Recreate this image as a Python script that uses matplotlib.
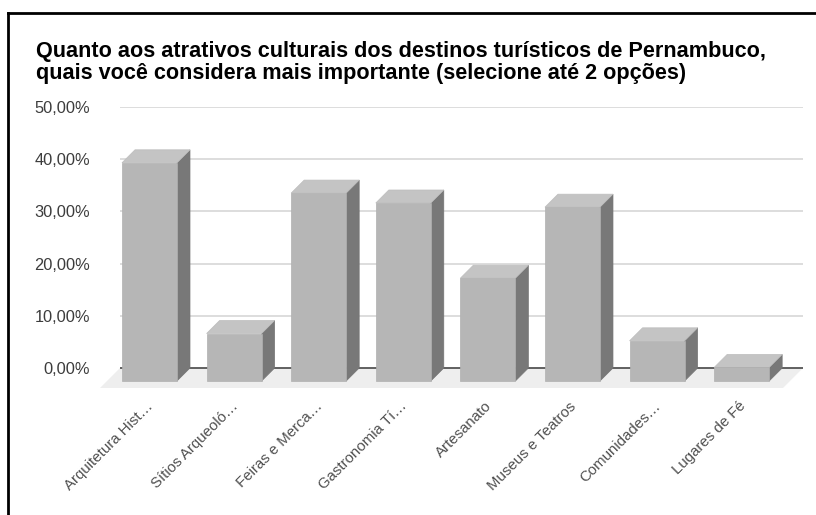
import matplotlib
matplotlib.use("Agg")
import matplotlib.pyplot as plt
from matplotlib.patches import Polygon
from matplotlib.lines import Line2D

# ---- data ----
categories = ["Arquitetura Hist…", "Sítios Arqueoló…", "Feiras e Merca…", "Gastronomia Tí…",
              "Artesanato", "Museus e Teatros", "Comunidades…", "Lugares de Fé"]
values = [41.8, 9.1, 36.0, 34.1, 19.7, 33.3, 7.7, 2.6]
yticks = [0, 10, 20, 30, 40, 50]
ytick_labels = ["0,00%", "10,00%", "20,00%", "30,00%", "40,00%", "50,00%"]
title_lines = ["Quanto aos atrativos culturais dos destinos turísticos de Pernambuco,",
               "quais você considera mais importante (selecione até 2 opções)"]

plt.rcParams['font.family'] = ['Liberation Sans', 'DejaVu Sans']

W, H = 816, 515
fig = plt.figure(figsize=(W / 100, H / 100), dpi=100)
fig.patch.set_facecolor('white')

# axes placed in pixel terms
ax_l, ax_r, ax_t, ax_b = 100, 803, 107, 388
ax = fig.add_axes([ax_l / W, (H - ax_b) / H, (ax_r - ax_l) / W, (ax_b - ax_t) / H])
xlim = (-0.585, 7.725)
ylim = (-3.83, 50)
ax.set_xlim(*xlim)
ax.set_ylim(*ylim)
for s in ax.spines.values():
    s.set_visible(False)
ax.set_facecolor('none')

pxx = (ax_r - ax_l) / (xlim[1] - xlim[0])   # px per x unit
pxy = (ax_b - ax_t) / (ylim[1] - ylim[0])   # px per y unit

bar_w = 55 / pxx
dx = 13 / pxx
dy = 13 / pxy
fdx = 20 / pxx
fdy = 20 / pxy

grid_x0 = xlim[0] + fdx
grid_x1 = xlim[1]

# floor
floor = Polygon([(grid_x0, 0), (grid_x1, 0), (grid_x1 - fdx, -fdy), (xlim[0], -fdy)],
                closed=True, facecolor='#eeeeee', edgecolor='none', zorder=1)
ax.add_patch(floor)

# gridlines
ax.hlines([t for t in yticks if t > 0], grid_x0, grid_x1, colors='#dadada', linewidth=1.3, zorder=0.5)
ax.hlines([0], grid_x0, grid_x1, colors='#555555', linewidth=1.3, zorder=2)

# bars
for i, v in enumerate(values):
    x0 = i - bar_w / 2
    x1 = i + bar_w / 2
    yb = -dy
    yt = v - dy
    front = Polygon([(x0, yb), (x1, yb), (x1, yt), (x0, yt)], closed=True,
                    facecolor='#b6b6b6', edgecolor='#b0b0b0', linewidth=0.5, zorder=5)
    top = Polygon([(x0, yt), (x1, yt), (x1 + dx, v), (x0 + dx, v)], closed=True,
                  facecolor='#c4c4c4', edgecolor='#bdbdbd', linewidth=0.5, zorder=4)
    side = Polygon([(x1, yb), (x1 + dx, 0), (x1 + dx, v), (x1, yt)], closed=True,
                   facecolor='#787878', edgecolor='#747474', linewidth=0.5, zorder=4)
    for p in (side, top, front):
        ax.add_patch(p)

# y ticks
ax.set_yticks(yticks)
ax.set_yticklabels(ytick_labels)
ax.tick_params(axis='y', length=0, pad=7.2, labelsize=11.8, labelcolor='#3c3c3c')

# x ticks
ax.set_xticks([i + 1.5 / pxx for i in range(len(categories))])
ax.set_xticklabels(categories)
ax.tick_params(axis='x', length=0, pad=11.5, labelsize=10.8, labelcolor='#505050')
for lab in ax.get_xticklabels():
    lab.set_rotation(45)
    lab.set_rotation_mode('anchor')
    lab.set_ha('right')
    lab.set_va('center')

# title
fig.text(36 / W, 1 - 57 / H, title_lines[0], fontsize=15.6, fontweight='bold', color='black',
         ha='left', va='baseline')
fig.text(36 / W, 1 - 78.5 / H, title_lines[1], fontsize=15.6, fontweight='bold', color='black',
         ha='left', va='baseline')

# border
fig.add_artist(Line2D([8 / W, 1.0], [1 - 12.5 / H, 1 - 12.5 / H], color='black', linewidth=2.0,
                      transform=fig.transFigure))
fig.add_artist(Line2D([8 / W, 8 / W], [1 - 12.5 / H, 0], color='black', linewidth=2.0,
                      transform=fig.transFigure))

fig.savefig('out.png', dpi=100, facecolor='white')
